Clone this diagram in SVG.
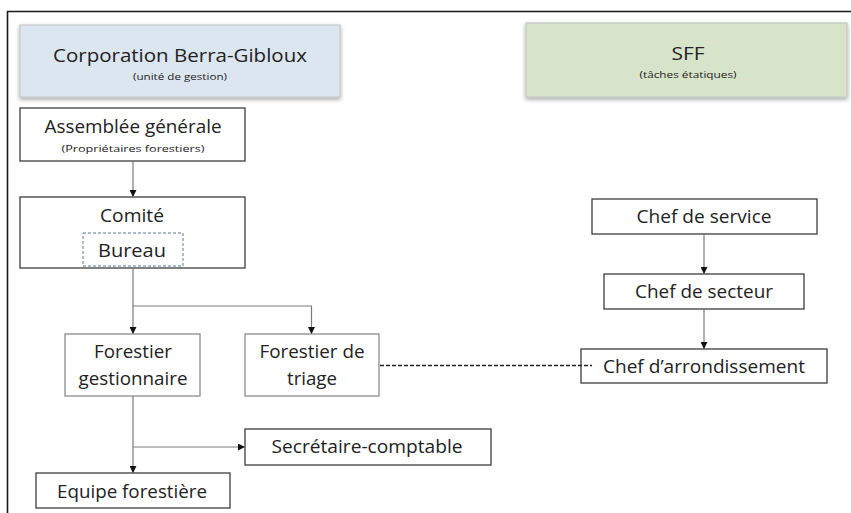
<svg xmlns="http://www.w3.org/2000/svg" width="851" height="513" viewBox="0 0 851 513">
<defs>
<filter id="sh" x="-10%" y="-20%" width="120%" height="140%">
<feGaussianBlur in="SourceAlpha" stdDeviation="2"/>
<feOffset dx="0" dy="2" result="b"/>
<feComponentTransfer><feFuncA type="linear" slope="0.35"/></feComponentTransfer>
<feMerge><feMergeNode/><feMergeNode in="SourceGraphic"/></feMerge>
</filter>
<marker id="arr" markerWidth="7" markerHeight="7" refX="6" refY="3.5" orient="auto" markerUnits="userSpaceOnUse">
<path d="M0,0 L7,3.5 L0,7 Z" fill="#111"/>
</marker>
</defs>
<style>
text{font-family:"Open Sans","Liberation Sans",sans-serif;fill:#222;text-anchor:middle}
.big{font-size:19px}
.small{font-size:9.5px}
.box{fill:#fff;stroke:#3c3c3c;stroke-width:1.3}
.lbox{fill:#fff;stroke:#8c8c8c;stroke-width:1.3}
.conn{fill:none;stroke:#7a7a7a;stroke-width:1.2}
</style>
<rect width="851" height="513" fill="#fff"/>
<path d="M7.5,513 V11.5 H851" fill="none" stroke="#1a1a1a" stroke-width="1.6"/>

<g id="corporation">
<rect x="20" y="25" width="320" height="72" fill="#dce6f1" stroke="#c4c8cc" stroke-width="1.2" filter="url(#sh)"/>
<text class="big" x="180" y="62" textLength="254" lengthAdjust="spacingAndGlyphs">Corporation  Berra-Gibloux</text>
<text class="small" x="180" y="80" textLength="94" lengthAdjust="spacingAndGlyphs">(unité de gestion)</text>
</g>

<g id="sff">
<rect x="526" y="23" width="321" height="74" fill="#d8e4ca" stroke="#c4c8c0" stroke-width="1.2" filter="url(#sh)"/>
<text class="big" x="688" y="60" textLength="33" lengthAdjust="spacingAndGlyphs">SFF</text>
<text class="small" x="688" y="78" textLength="97" lengthAdjust="spacingAndGlyphs">(tâches étatiques)</text>
</g>

<g id="assemblee">
<rect class="box" x="20" y="108" width="225" height="53"/>
<text class="big" x="133" y="133" textLength="177" lengthAdjust="spacingAndGlyphs">Assemblée générale</text>
<text class="small" x="133" y="152" textLength="143" lengthAdjust="spacingAndGlyphs">(Propriétaires forestiers)</text>
</g>

<g id="comite">
<rect class="box" x="20" y="197" width="225" height="71"/>
<text class="big" x="132" y="222" textLength="64" lengthAdjust="spacingAndGlyphs">Comité</text>
</g>

<g id="bureau">
<rect x="83" y="233" width="100" height="33" fill="none" stroke="#5b7a99" stroke-width="1" stroke-dasharray="3,2"/>
<text class="big" x="132" y="257" textLength="68" lengthAdjust="spacingAndGlyphs">Bureau</text>
</g>

<g id="forestier-gestionnaire">
<rect class="lbox" x="65" y="334" width="135" height="62"/>
<text class="big" x="133" y="358" textLength="78" lengthAdjust="spacingAndGlyphs">Forestier</text>
<text class="big" x="133" y="385" textLength="109" lengthAdjust="spacingAndGlyphs">gestionnaire</text>
</g>

<g id="forestier-triage">
<rect class="lbox" x="245" y="334" width="134" height="62"/>
<text class="big" x="312" y="358" textLength="105" lengthAdjust="spacingAndGlyphs">Forestier de</text>
<text class="big" x="312" y="385" textLength="50" lengthAdjust="spacingAndGlyphs">triage</text>
</g>

<g id="secretaire">
<rect class="box" x="245" y="429" width="246" height="36"/>
<text class="big" x="367" y="453" textLength="191" lengthAdjust="spacingAndGlyphs">Secrétaire-comptable</text>
</g>

<g id="equipe">
<rect class="box" x="36" y="473" width="194" height="35"/>
<text class="big" x="132" y="498" textLength="150" lengthAdjust="spacingAndGlyphs">Equipe forestière</text>
</g>

<g id="chef-service">
<rect class="box" x="592" y="199" width="225" height="35"/>
<text class="big" x="704" y="223" textLength="135" lengthAdjust="spacingAndGlyphs">Chef de service</text>
</g>

<g id="chef-secteur">
<rect class="box" x="604" y="274" width="200" height="35"/>
<text class="big" x="704" y="298" textLength="138" lengthAdjust="spacingAndGlyphs">Chef de secteur</text>
</g>

<g id="chef-arrondissement">
<rect class="box" x="581" y="349" width="246" height="34"/>
<text class="big" x="704" y="373" textLength="202" lengthAdjust="spacingAndGlyphs">Chef d’arrondissement</text>
</g>

<g id="connectors">
<path class="conn" d="M133,161 V196" marker-end="url(#arr)"/>
<path class="conn" d="M133,268 V333" marker-end="url(#arr)"/>
<path class="conn" d="M133,306 H311.5 V333" marker-end="url(#arr)"/>
<path class="conn" d="M133,396 V472" marker-end="url(#arr)"/>
<path class="conn" d="M133,447 H244" marker-end="url(#arr)"/>
<path class="conn" d="M704,234 V273" marker-end="url(#arr)"/>
<path class="conn" d="M704,309 V348" marker-end="url(#arr)"/>
<path d="M380,365.5 H592" fill="none" stroke="#222" stroke-width="1.3" stroke-dasharray="4,2"/>
</g>
</svg>
